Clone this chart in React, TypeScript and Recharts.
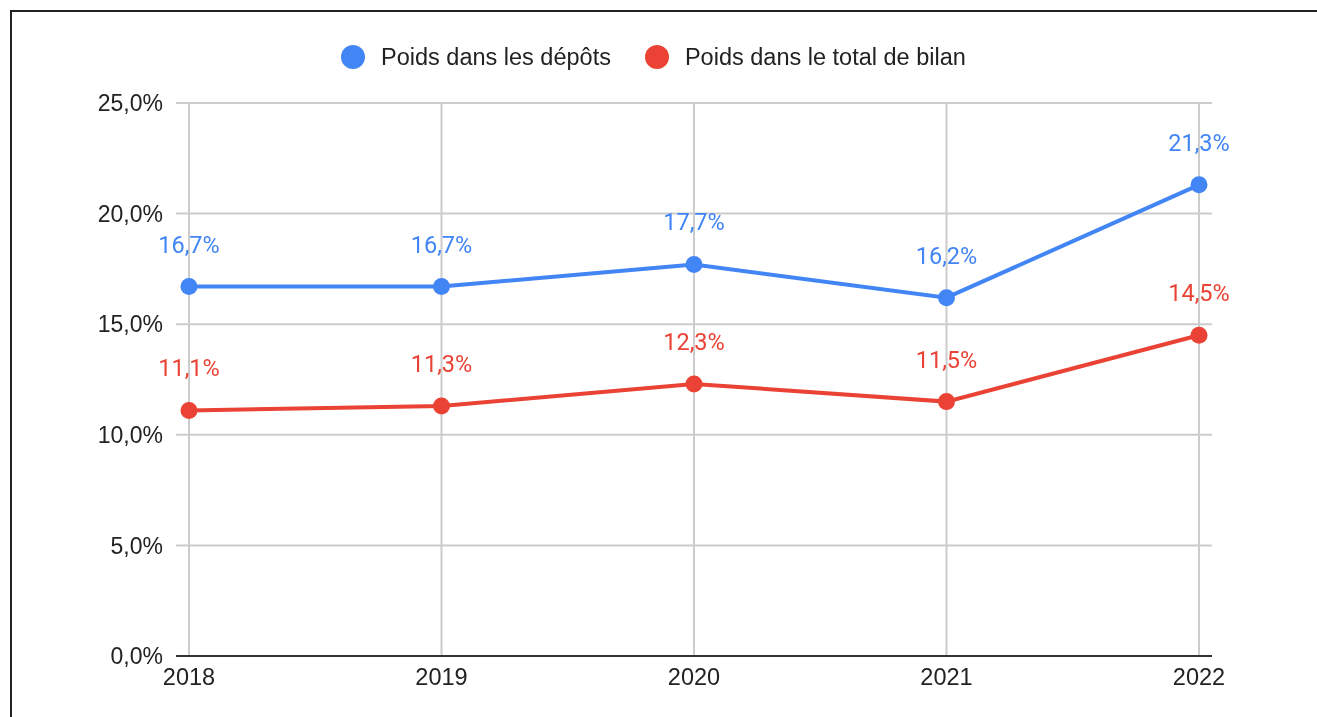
import * as React from "react"
import { LineChart, Line, XAxis, YAxis, CartesianGrid, LabelList, ReferenceLine } from "recharts"

const years = ["2018", "2019", "2020", "2021", "2022"]
const depots = [16.7, 16.7, 17.7, 16.2, 21.3]
const bilan = [11.1, 11.3, 12.3, 11.5, 14.5]
const yTicks = [0, 5, 10, 15, 20, 25]

const BLUE = "#4285F4"
const RED = "#EA4335"
const AXIS_FONT = "Arial, 'Liberation Sans', sans-serif"

const data = years.map((year, i) => ({ year, depots: depots[i], bilan: bilan[i] }))

const fmt = (v: number) => v.toFixed(1).replace(".", ",") + "%"

function makeLabel(color: string) {
  return (props: any) => {
    const { x, y, value } = props
    return (
      <text
        x={x}
        y={y - 34}
        textAnchor="middle"
        fill={color}
        fontFamily="Roboto, Arial, sans-serif"
        fontSize={23.5}
      >
        {fmt(value)}
      </text>
    )
  }
}

function LegendItem({ color, label }: { color: string; label: string }) {
  return (
    <div style={{ display: "flex", alignItems: "center", marginRight: 34 }}>
      <span
        style={{
          width: 24,
          height: 24,
          borderRadius: 12,
          background: color,
          marginRight: 16,
          display: "inline-block",
        }}
      />
      <span>{label}</span>
    </div>
  )
}

export default function App() {
  return (
    <div>
      <div
        style={{
          position: "fixed",
          left: 10,
          top: 10,
          width: 1400,
          height: 800,
          border: "2px solid #222",
          boxSizing: "border-box",
        }}
      />
      <div style={{ position: "fixed", left: 0, top: 0 }}>
        <LineChart
          width={1317}
          height={717}
          data={data}
          margin={{ top: 103, right: 105, left: 0, bottom: 21 }}
        >
          <CartesianGrid stroke="#cccccc" strokeWidth={2} vertical={false} />
          {/* vertical grid lines only at the years, not at the plot edges */}
          {years.map((y) => (
            <ReferenceLine key={y} x={y} stroke="#cccccc" strokeWidth={2} />
          ))}
          <XAxis
            dataKey="year"
            padding={{ left: 13, right: 13 }}
            height={40}
            tickSize={0}
            tickMargin={12}
            axisLine={{ stroke: "#333", strokeWidth: 2 }}
            tick={{ fill: "#222", fontSize: 23.5, fontFamily: AXIS_FONT }}
          />
          <YAxis
            width={176}
            domain={[0, 25]}
            ticks={yTicks}
            tickFormatter={fmt}
            axisLine={false}
            tickSize={0}
            tickMargin={13}
            tick={{ fill: "#222", fontSize: 23, fontFamily: AXIS_FONT }}
          />
          <Line
            dataKey="depots"
            stroke={BLUE}
            strokeWidth={4}
            dot={{ r: 8.5, fill: BLUE, stroke: BLUE, strokeWidth: 0 }}
            isAnimationActive={false}
          >
            <LabelList dataKey="depots" content={makeLabel(BLUE)} />
          </Line>
          <Line
            dataKey="bilan"
            stroke={RED}
            strokeWidth={4}
            dot={{ r: 8.5, fill: RED, stroke: RED, strokeWidth: 0 }}
            isAnimationActive={false}
          >
            <LabelList dataKey="bilan" content={makeLabel(RED)} />
          </Line>
        </LineChart>
      </div>
      <div
        style={{
          position: "fixed",
          left: 341,
          top: 43,
          display: "flex",
          fontFamily: AXIS_FONT,
          fontSize: 23.5,
          color: "#222",
          lineHeight: "28px",
        }}
      >
        <LegendItem color={BLUE} label="Poids dans les dépôts" />
        <LegendItem color={RED} label="Poids dans le total de bilan" />
      </div>
    </div>
  )
}
